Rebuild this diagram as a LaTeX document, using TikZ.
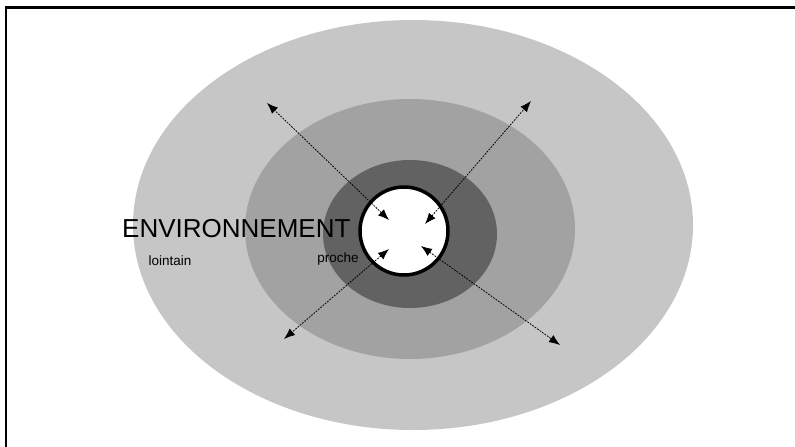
\documentclass[tikz,border=0pt]{standalone}
\usepackage{fontspec}
\setmainfont{Liberation Sans}
\usetikzlibrary{arrows.meta}
\definecolor{farring}{HTML}{C6C6C6}
\definecolor{midring}{HTML}{A2A2A2}
\definecolor{nearring}{HTML}{626262}
\tikzset{
  link/.style={dash pattern=on 1.8pt off 1.2pt, line width=0.8pt,
    {Latex[length=11pt,width=8.5pt]}-{Latex[length=11pt,width=8.5pt]}},
  lbl/.style={inner sep=0pt, anchor=base},
}
\begin{document}
\begin{tikzpicture}[x=1pt,y=-1pt]
\useasboundingbox (0,0) rectangle (795,447);
% frame (top and left edges)
\draw[line width=2.2pt] (6,447) -- (6,7.5) -- (795,7.5);
% concentric zones
\fill[farring] (413,225) ellipse [x radius=280, y radius=205];
\fill[midring] (410,229) ellipse [x radius=165, y radius=130];
\fill[nearring] (410,234) ellipse [x radius=87, y radius=74];
\node[circle, fill=white, draw=black, line width=3.5pt, minimum size=88pt, inner sep=0pt] (core) at (404,231) {};
% labels
\node[lbl, anchor=base west, font=\fontsize{26}{28}\selectfont] (env) at (122,237) {ENVIRONNEMENT};
\node[lbl, font=\fontsize{13.5}{15}\selectfont] (far) at (170,265) {lointain};
\node[lbl, font=\fontsize{13.5}{15}\selectfont] (near) at (338,262) {proche};
% exchanges between the core and its surroundings
\coordinate (a1) at (389,220);  \coordinate (b1) at (267,103);
\coordinate (a2) at (425,224);  \coordinate (b2) at (531,101);
\coordinate (a3) at (389,249);  \coordinate (b3) at (284,339);
\coordinate (a4) at (421,246);  \coordinate (b4) at (560,345);
\draw[link] (a1) -- (b1);
\draw[link] (a2) -- (b2);
\draw[link] (a3) -- (b3);
\draw[link] (a4) -- (b4);
\end{tikzpicture}
\end{document}
